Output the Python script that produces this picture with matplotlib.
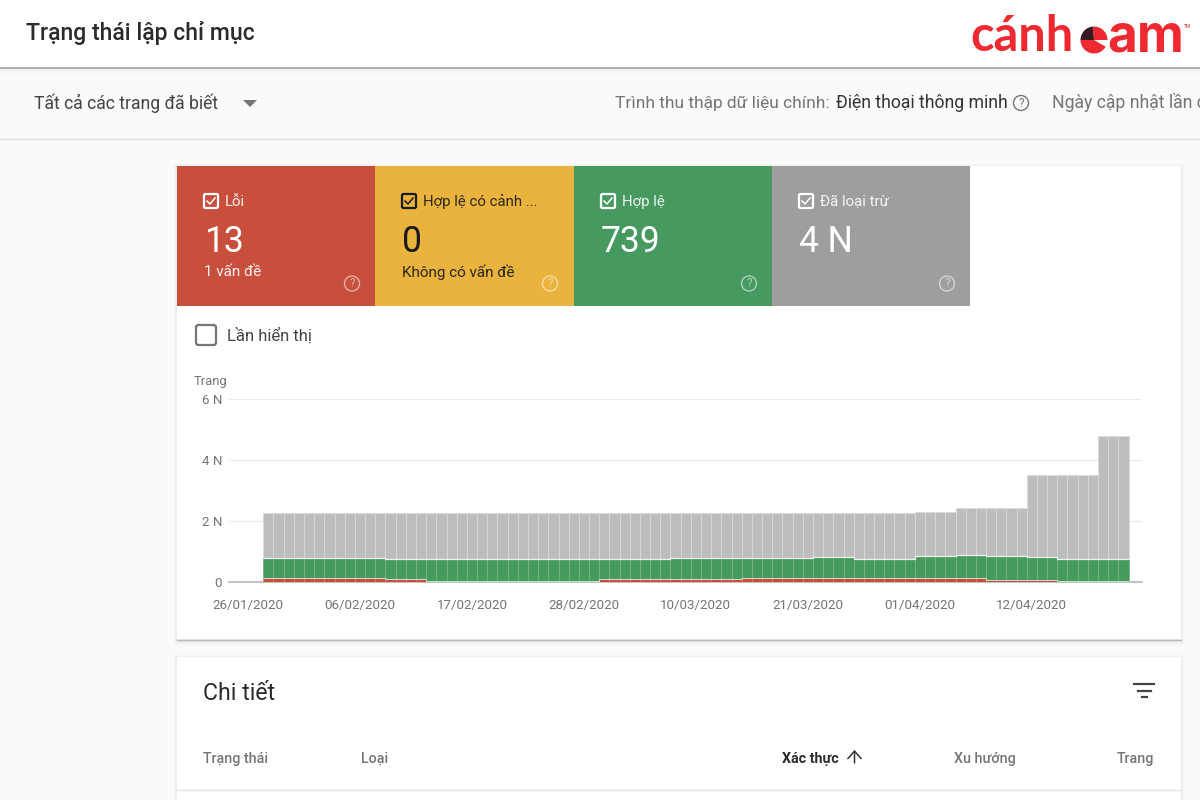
import matplotlib
matplotlib.use("Agg")
import numpy as np
import matplotlib.pyplot as plt
from matplotlib.patches import Rectangle, FancyBboxPatch, Circle, Wedge, Polygon

plt.rcParams['font.family'] = ['Roboto', 'DejaVu Sans']

# chart values, in thousands of pages (N), one entry per day
loi = [0.12, 0.12, 0.12, 0.12, 0.12, 0.12, 0.12, 0.12, 0.12, 0.12, 0.12, 0.12,
       0.09, 0.09, 0.09, 0.09,
       0.04, 0.04, 0.04, 0.04, 0.04, 0.04, 0.04, 0.04, 0.04, 0.04, 0.04, 0.04,
       0.04, 0.04, 0.04, 0.04, 0.04,
       0.09, 0.09, 0.09, 0.09, 0.09, 0.09, 0.09, 0.09, 0.09, 0.09, 0.09, 0.09,
       0.09, 0.09,
       0.12, 0.12, 0.12, 0.12, 0.12, 0.12, 0.12, 0.12, 0.12, 0.12, 0.12, 0.12,
       0.12, 0.12, 0.12, 0.12, 0.12, 0.12, 0.12, 0.12, 0.12, 0.12, 0.12, 0.12,
       0.08, 0.08, 0.08, 0.08, 0.08, 0.08, 0.08,
       0.04, 0.04, 0.04, 0.04, 0.04, 0.04, 0.04]
hop_le = [0.68, 0.68, 0.68, 0.68, 0.68, 0.68, 0.68, 0.68, 0.68, 0.68, 0.68, 0.68,
          0.66, 0.66, 0.66, 0.66,
          0.70, 0.70, 0.70, 0.70, 0.70, 0.70, 0.70, 0.70, 0.70, 0.70, 0.70, 0.70,
          0.70, 0.70, 0.70, 0.70, 0.70,
          0.65, 0.65, 0.65, 0.65, 0.65, 0.65, 0.65,
          0.69, 0.69, 0.69, 0.69, 0.69, 0.69, 0.69,
          0.66, 0.66, 0.66, 0.66, 0.66, 0.66, 0.66,
          0.69, 0.69, 0.69, 0.69,
          0.645, 0.645, 0.645, 0.645, 0.645, 0.645,
          0.73, 0.73, 0.73, 0.73,
          0.765, 0.765, 0.765,
          0.76, 0.76, 0.76, 0.76,
          0.73, 0.73, 0.73,
          0.725, 0.725, 0.725, 0.725, 0.725, 0.725, 0.725]
da_loai_tru = [1.47, 1.47, 1.47, 1.47, 1.47, 1.47, 1.47, 1.47, 1.47, 1.47, 1.47, 1.47,
               1.52, 1.52, 1.52, 1.52,
               1.53, 1.53, 1.53, 1.53, 1.53, 1.53, 1.53, 1.53, 1.53, 1.53, 1.53, 1.53,
               1.53, 1.53, 1.53, 1.53, 1.53,
               1.53, 1.53, 1.53, 1.53, 1.53, 1.53, 1.53,
               1.49, 1.49, 1.49, 1.49, 1.49, 1.49, 1.49,
               1.49, 1.49, 1.49, 1.49, 1.49, 1.49, 1.49,
               1.46, 1.46, 1.46, 1.46,
               1.505, 1.505, 1.505, 1.505, 1.505, 1.505,
               1.46, 1.46, 1.46, 1.46,
               1.525, 1.525, 1.525,
               1.57, 1.57, 1.57, 1.57,
               2.70, 2.70, 2.70,
               2.745, 2.745, 2.745, 2.745,
               4.015, 4.015, 4.015]
tick_days = [0, 11, 22, 33, 44, 55, 66, 77]
tick_dates = ['26/01/2020', '06/02/2020', '17/02/2020', '28/02/2020',
              '10/03/2020', '21/03/2020', '01/04/2020', '12/04/2020']
y_ticks = [0, 2, 4, 6]
y_labels = ['0', '2 N', '4 N', '6 N']

# tiles: left edge, colour, text colour, title, number, subtitle
tile_x = [177, 375, 574, 772]
tile_w = [199, 200, 199, 198]
tile_colors = ['#c94f3d', '#e9b33e', '#479a5f', '#9e9e9e']
tile_text = ['white', '#1a1a1a', 'white', 'white']
tile_titles = ['Lỗi', 'Hợp lệ có cảnh ...', 'Hợp lệ', 'Đã loại trừ']
tile_numbers = ['13', '0', '739', '4 N']
tile_subs = ['1 vấn đề', 'Không có vấn đề', '', '']

fig = plt.figure(figsize=(12, 8), dpi=100, facecolor='#fafafa')

# page furniture is drawn in pixel coordinates
ui = fig.add_axes([0, 0, 1, 1])
ui.set_xlim(0, 1200)
ui.set_ylim(800, 0)
ui.axis('off')


def shadow(x, y, w, h, steps=3):
    # soft shadow, heavier towards the bottom
    for i in range(1, steps + 1):
        ui.add_patch(Rectangle((x - i, y - i + 1), w + 2 * i, h + 2 * i - 1 + i,
                               fc='black', ec='none', alpha=0.018))


def help_icon(x, y, color, alpha=1.0, r=7.5):
    ui.add_patch(Circle((x, y), r, fc='none', ec=color, lw=1.0, alpha=alpha))
    ui.text(x, y + 0.3, '?', color=color, fontsize=8.5, ha='center', va='center', alpha=alpha)


def checkbox(x, y, color):
    ui.add_patch(FancyBboxPatch((x + 1, y + 0.5), 14, 14, boxstyle='round,pad=0,rounding_size=1.5',
                                fc='none', ec=color, lw=1.6))
    ui.plot([x + 4, x + 7, x + 12], [y + 7.5, y + 10.5, y + 4.5], color=color, lw=1.1)


# header
shadow(0, 0, 1200, 67)
ui.add_patch(Rectangle((0, 0), 1200, 68, fc='white', ec='none'))
ui.plot([0, 1200], [68, 68], color='#a8a8a8', lw=1.3)
ui.text(26, 40, 'Trạng thái lập chỉ mục', fontsize=16.6, color='#2b2b2b',
        fontweight='medium', va='baseline')

# logo
ui.text(970, 51, 'cánh', fontsize=35, color='#ee2a30', family=['Lato', 'DejaVu Sans'],
        fontweight='bold', va='baseline')
ui.add_patch(Wedge((1094, 40), 13.5, 265, 360, fc='#ee2a30', ec='none'))
ui.add_patch(Wedge((1094, 40), 13.5, 180, 265, fc='#3a1a22', ec='none'))
ui.add_patch(Wedge((1094, 40), 13.5, 30, 180, fc='#ee2a30', ec='none'))
ui.text(1107, 51, 'am', fontsize=37, color='#ee2a30', family=['Inter', 'DejaVu Sans'],
        fontweight='bold', va='baseline')
ui.text(1184, 28, 'TM', fontsize=3.5, color='#ee2a30', va='baseline')

# filter row
ui.text(34, 109, 'Tất cả các trang đã biết', fontsize=12.7, color='#444444', va='baseline')
ui.add_patch(Polygon([[243, 100], [257, 100], [250, 107]], fc='#757575', ec='none'))
ui.text(615, 108, 'Trình thu thập dữ liệu chính:', fontsize=12.55, color='#757575', va='baseline')
ui.text(836, 108, 'Điện thoại thông minh', fontsize=12.7, color='#333333', va='baseline')
help_icon(1021, 103, '#757575')
ui.text(1052, 108, 'Ngày cập nhật lần cuối', fontsize=12.7, color='#757575', va='baseline')
ui.plot([0, 1200], [138.5, 138.5], color='#dedede', lw=1)

# main card
shadow(177, 166, 1004, 473)
ui.add_patch(Rectangle((177, 166), 1004, 473, fc='white', ec='none'))
ui.plot([177, 1181], [639.5, 639.5], color='#b8b8b8', lw=1)
for x, w, col, tc, title, num, sub in zip(tile_x, tile_w, tile_colors, tile_text,
                                          tile_titles, tile_numbers, tile_subs):
    ui.add_patch(Rectangle((x, 166), w, 140, fc=col, ec='none'))
    checkbox(x + 26, 193.5, tc)
    ui.text(x + 48, 206, title, fontsize=10.8, color=tc, va='baseline', alpha=0.9)
    ui.text(x + 27, 252, num, fontsize=25.6, color=tc, va='baseline')
    ui.text(x + 26.5, 276.5, sub, fontsize=11, color=tc, va='baseline', alpha=0.92)
    help_icon(x + 175, 283.5, 'white', alpha=0.55)

ui.add_patch(FancyBboxPatch((196, 325), 20, 20, boxstyle='round,pad=0,rounding_size=2.5',
                            fc='white', ec='#757575', lw=1.6))
ui.text(227, 341, 'Lần hiển thị', fontsize=12, color='#444444', va='baseline')
ui.text(194, 385, 'Trang', fontsize=9.4, color='#757575', va='baseline')

# details card
shadow(177, 657, 1004, 150)
ui.add_patch(Rectangle((177, 657), 1004, 150, fc='white', ec='none'))
ui.text(203, 700, 'Chi tiết', fontsize=16.6, color='#2b2b2b', va='baseline')
for x0, x1, y in [(1134, 1154, 684), (1137.5, 1150.5, 690.5), (1141.5, 1146.5, 696.5)]:
    ui.plot([x0, x1], [y, y], color='#444444', lw=1.6)
ui.text(203, 763, 'Trạng thái', fontsize=10.3, color='#757575', va='baseline', fontweight='medium')
ui.text(361, 763, 'Loại', fontsize=10.3, color='#757575', va='baseline', fontweight='medium')
ui.text(782, 763, 'Xác thực', fontsize=10.3, color='#2b2b2b', va='baseline', fontweight='bold')
ui.annotate('', xy=(854.5, 750), xytext=(854.5, 763),
            arrowprops=dict(arrowstyle='->,head_length=0.45,head_width=0.4', color='#333333',
                            lw=1.1, mutation_scale=12, shrinkA=0, shrinkB=0))
ui.text(954, 763, 'Xu hướng', fontsize=10.3, color='#757575', va='baseline', fontweight='medium')
ui.text(1154, 763, 'Trang', fontsize=10.3, color='#757575', va='baseline', ha='right', fontweight='medium')
ui.plot([177, 1181], [789.5, 789.5], color='#e3e3e3', lw=1)

# stacked bar chart
ax = fig.add_axes([229 / 1200, 1 - 582 / 800, (1142 - 229) / 1200, (582 - 399) / 800])
ax.patch.set_alpha(0)
days = np.arange(2, 2 + len(loi))
loi = np.array(loi)
hop_le = np.array(hop_le)
da_loai_tru = np.array(da_loai_tru)
for vals, bottom, col, edge in [(loi, 0, '#cc4a3b', '#da7b6f'),
                                (hop_le, loi, '#459a5e', '#76b48a'),
                                (da_loai_tru, loi + hop_le, '#bdbdbd', '#dadada')]:
    ax.bar(days, vals, bottom=bottom, width=1.0, color=col, edgecolor=edge, linewidth=0.6, zorder=3)
# light seams on top of the red and green segments
day_edges = np.append(days - 0.5, days[-1] + 0.5)
ax.stairs(loi, day_edges, color='#eef3ee', lw=0.5, baseline=None, zorder=4)
ax.stairs(loi + hop_le, day_edges, color='#eef3ee', lw=0.9, baseline=None, zorder=4)
ax.set_xlim(-1.87, 87.82)
ax.set_ylim(0, 6)
ax.set_xticks(tick_days)
ax.set_xticklabels(tick_dates)
ax.set_yticks(y_ticks)
ax.set_yticklabels(y_labels)
ax.tick_params(axis='both', length=0, labelsize=9.6, labelcolor='#757575')
ax.tick_params(axis='x', pad=12.5)
ax.tick_params(axis='y', pad=5)
ax.grid(axis='y', color='#ececec', lw=1, zorder=0)
for s in ['top', 'right', 'left']:
    ax.spines[s].set_visible(False)
ax.spines['bottom'].set_color('#bdbdbd')
ax.spines['bottom'].set_linewidth(1.3)

fig.savefig('out.png', dpi=100, facecolor=fig.get_facecolor())
